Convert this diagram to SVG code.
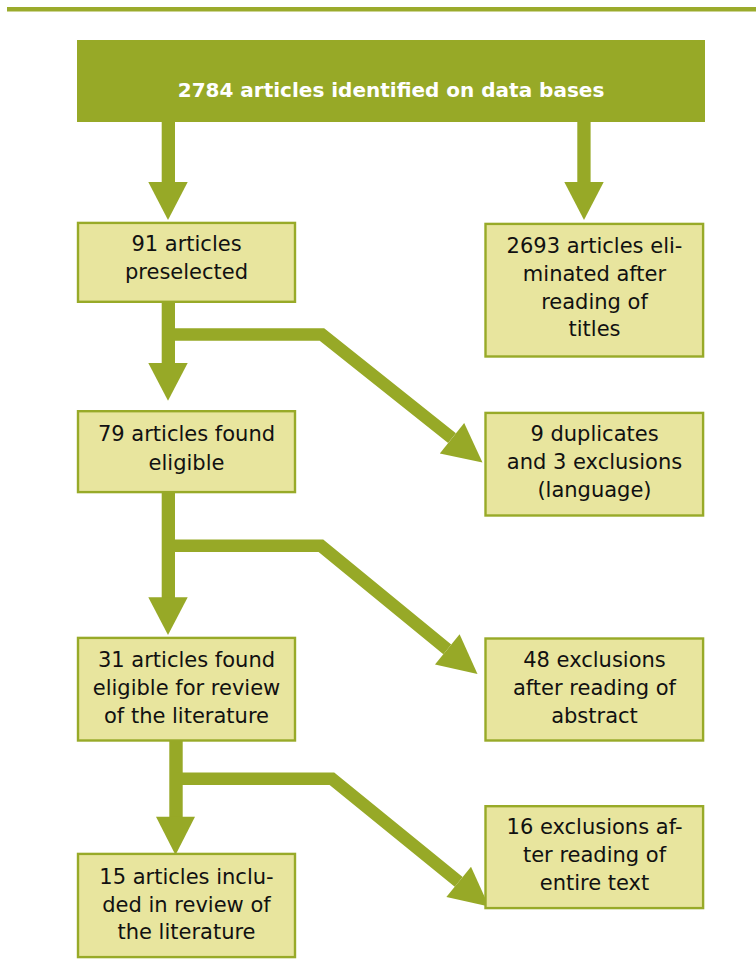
<svg xmlns="http://www.w3.org/2000/svg" width="756" height="978" viewBox="0 0 756 978">
<style>
.box{fill:#E8E59E;stroke:#98AA28;stroke-width:2.4}
.t{font-family:"DejaVu Sans",Verdana,sans-serif;font-size:21px;fill:#111;text-anchor:middle}
.title{font-family:"DejaVu Sans",Verdana,sans-serif;font-size:20px;font-weight:bold;fill:#fff;text-anchor:middle}
.ar{fill:#97A927}
.bar{fill:none;stroke:#97A927;stroke-width:12.5;stroke-linejoin:miter}
</style>
<rect x="7" y="7" width="749" height="4.5" fill="#9BAB2C"/>
<g id="connectors">
  <!-- top to 91 -->
  <rect class="ar" x="161.7" y="121" width="13.3" height="62"/>
  <polygon class="ar" points="148.3,182 187.7,182 168,220"/>
  <!-- top to 2693 -->
  <rect class="ar" x="577.3" y="121" width="13.3" height="62"/>
  <polygon class="ar" points="564.3,182 603.7,182 584,220"/>
  <!-- 91 to 79 -->
  <rect class="ar" x="161.7" y="302" width="13.3" height="62"/>
  <polygon class="ar" points="148.3,363 187.7,363 168,400.7"/>
  <polyline class="bar" points="168,334.5 322,334.5 452,438.2"/>
  <polygon class="ar" points="439.8,453.5 464.2,423 482.5,462.5"/>
  <!-- 79 to 31 -->
  <rect class="ar" x="161.7" y="492" width="13.3" height="106"/>
  <polygon class="ar" points="148.3,597.3 187.7,597.3 168,635"/>
  <polyline class="bar" points="168,545.8 321,545.8 447.3,649.3"/>
  <polygon class="ar" points="435,664.4 459.6,634.2 477.5,674"/>
  <!-- 31 to 15 -->
  <rect class="ar" x="169.3" y="741" width="13.4" height="77"/>
  <polygon class="ar" points="156,816.7 195,816.7 175.5,855"/>
  <polyline class="bar" points="176,778.8 332,778.8 458.7,881.9"/>
  <polygon class="ar" points="446.4,897 471,866.8 489,906.5"/>
</g>
<g id="n0">
  <rect x="77" y="40" width="628" height="82" fill="#97A927"/>
  <text class="title" x="391" y="97">2784 articles identified on data bases</text>
</g>
<g id="n1">
  <rect class="box" x="78" y="222.9" width="217" height="78.9"/>
  <text class="t" x="186.5" y="250.7">91 articles</text>
  <text class="t" x="186.5" y="279">preselected</text>
</g>
<g id="n2">
  <rect class="box" x="485.5" y="223.9" width="217.6" height="132.6"/>
  <text class="t" x="594.5" y="253.3">2693 articles eli-</text>
  <text class="t" x="594.5" y="281">minated after</text>
  <text class="t" x="594.5" y="308.5">reading of</text>
  <text class="t" x="594.5" y="336">titles</text>
</g>
<g id="n3">
  <rect class="box" x="78" y="411.2" width="217" height="80.9"/>
  <text class="t" x="186.5" y="441">79 articles found</text>
  <text class="t" x="186.5" y="469.5">eligible</text>
</g>
<g id="n4">
  <rect class="box" x="485.5" y="412.9" width="217.6" height="102.6"/>
  <text class="t" x="594.5" y="440.7">9 duplicates</text>
  <text class="t" x="594.5" y="468.7">and 3 exclusions</text>
  <text class="t" x="594.5" y="496.7">(language)</text>
</g>
<g id="n5">
  <rect class="box" x="78" y="637.9" width="217" height="102.6"/>
  <text class="t" x="186.5" y="667.3">31 articles found</text>
  <text class="t" x="186.5" y="695">eligible for review</text>
  <text class="t" x="186.5" y="722.7">of the literature</text>
</g>
<g id="n6">
  <rect class="box" x="485.5" y="638.5" width="217.6" height="102"/>
  <text class="t" x="594.5" y="666.7">48 exclusions</text>
  <text class="t" x="594.5" y="695">after reading of</text>
  <text class="t" x="594.5" y="723.3">abstract</text>
</g>
<g id="n7">
  <rect class="box" x="78" y="853.9" width="217" height="103.2"/>
  <text class="t" x="186.5" y="884">15 articles inclu-</text>
  <text class="t" x="186.5" y="911.7">ded in review of</text>
  <text class="t" x="186.5" y="939.3">the literature</text>
</g>
<g id="n8">
  <rect class="box" x="485.5" y="806.2" width="217.6" height="101.9"/>
  <text class="t" x="594.5" y="834">16 exclusions af-</text>
  <text class="t" x="594.5" y="862.3">ter reading of</text>
  <text class="t" x="594.5" y="890">entire text</text>
</g>
</svg>
